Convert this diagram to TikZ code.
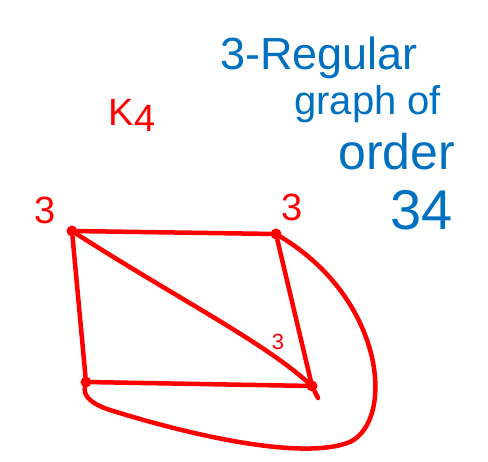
\documentclass[tikz,border=0pt]{standalone}
\usepackage{fontspec}
\setmainfont{Liberation Sans}
\definecolor{inkred}{RGB}{255,0,0}
\definecolor{inkblue}{RGB}{0,112,192}
\begin{document}
\begin{tikzpicture}[x=1pt,y=-1pt,
  edge/.style={draw=inkred,line width=4.5pt,line cap=round,line join=round},
  vert/.style={circle,fill=inkred,inner sep=0pt,minimum size=11pt},
  redlab/.style={text=inkred,font=\fontsize{38}{38}\selectfont,inner sep=0pt},
  bluelab/.style={text=inkblue,inner sep=0pt,anchor=west}]
\useasboundingbox (0,0) rectangle (488,462);
\node[vert] (a) at (72,231) {};
\node[vert] (b) at (276,234) {};
\node[vert] (c) at (86,382) {};
\node[vert] (d) at (312,386) {};
\coordinate (dt) at (318,398);
\draw[edge] (a) -- (b);
\draw[edge] (a) -- (c);
\draw[edge] (a) .. controls (180,300) and (260,340) .. (d);
\draw[edge] (b) -- (d);
\draw[edge] (c) -- (d);
\draw[edge] (d) -- (dt);
\draw[edge] (b) .. controls (385,300) and (395,420) .. (350,442)
  .. controls (300,462) and (180,432) .. (110,410)
  .. controls (85,402) and (84,392) .. (c);
\node[redlab] (k4) at (132,115) {K\raisebox{-0.3ex}{4}};
\node[redlab] (la) at (45,210) {3};
\node[redlab] (lb) at (292,207) {3};
\node[redlab,font=\fontsize{22}{22}\selectfont] (ld) at (278,342) {3};
\node[bluelab,font=\fontsize{45}{45}\selectfont] (t1) at (220,58) {3-Regular};
\node[bluelab,font=\fontsize{40}{40}\selectfont] (t2) at (294,104) {graph of};
\node[bluelab,font=\fontsize{50}{50}\selectfont] (t3) at (338,152) {order};
\node[bluelab,font=\fontsize{56}{56}\selectfont] (t4) at (390,210) {34};
\end{tikzpicture}
\end{document}
